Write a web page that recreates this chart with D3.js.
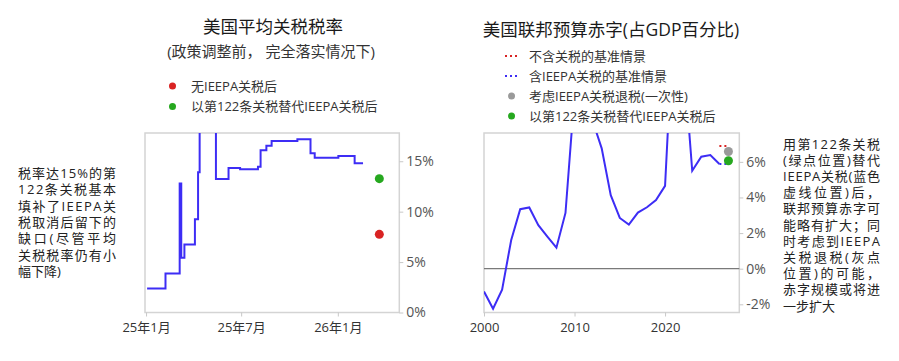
<!DOCTYPE html>
<html><head><meta charset="utf-8">
<script src="https://cdn.jsdelivr.net/npm/d3@7"></script>
<style>
body{margin:0;background:#fff;}
svg text{font-family:"Open Sans","Noto Sans CJK SC",sans-serif;}
</style></head><body>
<svg id="c" width="899" height="361"></svg>
<script>
// ---------- data: left chart (average US tariff rate, %) ----------
const tariffDates = ["2025-01-03","2025-02-07","2025-03-06","2025-03-09","2025-03-15","2025-04-04","2025-04-10","2025-04-13","2025-05-14","2025-06-07","2025-06-29","2025-08-02","2025-08-07","2025-08-18","2025-08-28","2025-10-16","2025-11-10","2025-11-18","2026-01-02","2026-02-02","2026-02-18"];
const tariffRates = [2.38,3.87,12.8,5.42,6.75,9.24,13.9,27.0,13.24,14.33,14.2,14.46,16.1,16.54,17.0,17.18,15.8,15.35,15.52,14.8,14.8];
const tariffScenarioDate = "2026-03-21";
const tariffNoIEEPA = 7.75;
const tariffSec122 = 13.27;
const tariffYTicks = [0,5,10,15];
const tariffXTicks = ["2025-01-01","2025-07-01","2026-01-01"];
const tariffXTickLabels = ["25年1月","25年7月","26年1月"];

// ---------- data: right chart (federal deficit, % of GDP) ----------
const deficitYears = [2000,2001,2002,2003,2004,2005,2006,2007,2008,2009,2010,2011,2012,2013,2014,2015,2016,2017,2018,2019,2020,2021,2022,2023,2024,2025,2026];
const deficitValues = [-1.28,-2.25,-1.18,1.6,3.34,3.44,2.44,1.8,1.18,3.13,9.8,8.6,8.3,6.76,4.13,2.85,2.48,3.15,3.45,3.85,4.65,14.7,12.1,5.5,6.29,6.38,5.88];
const baselineYears = [2026,2027];
const baselineNoTariffs = [6.89,6.89];
const baselineWithIEEPA = [5.88,5.88];
const scenarioYear = 2027;
const deficitRefund = 6.58;
const deficitSec122 = 6.06;
const deficitYTicks = [-2,0,2,4,6];
const deficitXTicks = [2000,2010,2020];

// ---------- texts ----------
const leftTitle = "美国平均关税税率";
const leftSubtitle = "(政策调整前， 完全落实情况下)";
const leftLegend = ["无IEEPA关税后","以第122条关税替代IEEPA关税后"];
const rightTitle = "美国联邦预算赤字(占GDP百分比)";
const rightLegend = ["不含关税的基准情景","含IEEPA关税的基准情景","考虑IEEPA关税退税(一次性)","以第122条关税替代IEEPA关税后"];
const leftNote = ["税率达15%的第","122条关税基本","填补了IEEPA关","税取消后留下的","缺口(尽管平均","关税税率仍有小","幅下降)"];
const rightNote = ["用第122条关税","(绿点位置)替代","IEEPA关税(蓝色","虚线位置)后，","联邦预算赤字可","能略有扩大；同","时考虑到IEEPA","关税退税(灰点","位置)的可能，","赤字规模或将进","一步扩大"];

// ---------- styles ----------
const BLUE = "#3d2df5", RED = "#d92323", GREEN = "#26a81f", GRAY = "#9a9a9a";
const FRAME = "#d4d4d4";
const svg = d3.select("#c");
const parse = d3.timeParse("%Y-%m-%d");

function frame(g, x0, y0, x1, y1){
  g.append("rect").attr("x",x0).attr("y",y0).attr("width",x1-x0).attr("height",y1-y0)
   .attr("fill","none").attr("stroke",FRAME).attr("stroke-width",1.5);
}
function styleAxis(a, color, size){
  a.select(".domain").remove();
  a.selectAll(".tick line").attr("stroke","#c8c8c8");
  a.selectAll(".tick text").attr("fill",color).style("font-size",size+"px");
}
function note(lines, x, y0, w, lh){
  const t = svg.append("g");
  lines.forEach((s,i)=>{
    const el = t.append("text").attr("x",x).attr("y",y0+i*lh).attr("dy","0.35em")
      .style("font-size","13px").attr("fill","#222").text(s);
    if(i < lines.length-1) el.attr("textLength",w).attr("lengthAdjust","spacing");
  });
}

// ================= LEFT CHART =================
const L = {x0:145, x1:399.3, y0:133, y1:312.5};
const xL = d3.scaleTime().domain([parse("2024-12-30"), parse("2026-04-28")]).range([L.x0, L.x1]);
const yL = d3.scaleLinear().domain([0,17.8]).range([L.y1, L.y0]);
const gL = svg.append("g");
const defs = svg.append("defs");
defs.append("clipPath").attr("id","clipL").append("rect")
  .attr("x",L.x0).attr("y",L.y0).attr("width",L.x1-L.x0).attr("height",L.y1-L.y0);
defs.append("clipPath").attr("id","clipR").append("rect")
  .attr("x",484).attr("y",133).attr("width",739.3-484).attr("height",312.5-133);

frame(gL, L.x0, L.y0, L.x1, L.y1);
const ayL = gL.append("g").attr("transform",`translate(${L.x1},0)`)
  .call(d3.axisRight(yL).tickValues(tariffYTicks).tickSize(4).tickPadding(3).tickFormat(d=>d+"%"));
styleAxis(ayL, "#555", 14);
const axL = gL.append("g").attr("transform",`translate(0,${L.y1})`)
  .call(d3.axisBottom(xL).tickValues(tariffXTicks.map(parse)).tickSize(4).tickPadding(6)
    .tickFormat((d,i)=>tariffXTickLabels[i]));
styleAxis(axL, "#333", 13);

const tariffData = tariffDates.map((d,i)=>({d:parse(d), v:tariffRates[i]}));
gL.append("path").datum(tariffData).attr("clip-path","url(#clipL)")
  .attr("fill","none").attr("stroke",BLUE).attr("stroke-width",2)
  .attr("d", d3.line().x(p=>xL(p.d)).y(p=>yL(p.v)).curve(d3.curveStepAfter));
gL.append("circle").attr("cx",xL(parse(tariffScenarioDate))).attr("cy",yL(tariffNoIEEPA)).attr("r",4.5).attr("fill",RED);
gL.append("circle").attr("cx",xL(parse(tariffScenarioDate))).attr("cy",yL(tariffSec122)).attr("r",4.5).attr("fill",GREEN);

svg.append("text").attr("x",273).attr("y",27).attr("dy","0.35em").attr("text-anchor","middle")
  .style("font-size","17.5px").attr("fill","#1a1a1a").text(leftTitle);
svg.append("text").attr("x",271).attr("y",51.5).attr("dy","0.35em").attr("text-anchor","middle")
  .style("font-size","15px").attr("fill","#333").text(leftSubtitle);
[RED, GREEN].forEach((c,i)=>{
  const y = 86 + i*20.5;
  svg.append("circle").attr("cx",172.5).attr("cy",y).attr("r",3.5).attr("fill",c);
  svg.append("text").attr("x",191).attr("y",y).attr("dy","0.35em").style("font-size","13px")
    .attr("fill","#333").text(leftLegend[i]);
});

// ================= RIGHT CHART =================
const R = {x0:484, x1:739.3, y0:133, y1:312.5};
const xR = d3.scaleLinear().domain([2000, 2028.2]).range([R.x0, R.x1]);
const yR = d3.scaleLinear().domain([-2.46, 7.62]).range([R.y1, R.y0]);
const gR = svg.append("g");
frame(gR, R.x0, R.y0, R.x1, R.y1);
const ayR = gR.append("g").attr("transform",`translate(${R.x1},0)`)
  .call(d3.axisRight(yR).tickValues(deficitYTicks).tickSize(4).tickPadding(3).tickFormat(d=>d+"%"));
styleAxis(ayR, "#555", 14);
const axR = gR.append("g").attr("transform",`translate(0,${R.y1})`)
  .call(d3.axisBottom(xR).tickValues(deficitXTicks).tickSize(4).tickPadding(6).tickFormat(d3.format("d")));
styleAxis(axR, "#333", 13);
gR.append("line").attr("x1",R.x0).attr("x2",R.x1).attr("y1",yR(0)).attr("y2",yR(0))
  .attr("stroke","#7a7a7a").attr("stroke-width",1.3);

const lineR = d3.line().x(p=>xR(p[0])).y(p=>yR(p[1]));
gR.append("path").datum(deficitYears.map((y,i)=>[y,deficitValues[i]])).attr("clip-path","url(#clipR)")
  .attr("fill","none").attr("stroke",BLUE).attr("stroke-width",2).attr("d",lineR);
gR.append("path").datum(baselineYears.map((y,i)=>[y,baselineNoTariffs[i]])).attr("clip-path","url(#clipR)")
  .attr("fill","none").attr("stroke",RED).attr("stroke-width",2.2).attr("stroke-dasharray","2,3").attr("d",lineR);
gR.append("path").datum(baselineYears.map((y,i)=>[y,baselineWithIEEPA[i]])).attr("clip-path","url(#clipR)")
  .attr("fill","none").attr("stroke",BLUE).attr("stroke-width",2.2).attr("stroke-dasharray","2,3").attr("d",lineR);
gR.append("circle").attr("cx",xR(scenarioYear)).attr("cy",yR(deficitRefund)).attr("r",4.5).attr("fill",GRAY);
gR.append("circle").attr("cx",xR(scenarioYear)).attr("cy",yR(deficitSec122)).attr("r",4.5).attr("fill",GREEN);

svg.append("text").attr("x",611).attr("y",30).attr("dy","0.35em").attr("text-anchor","middle")
  .style("font-size","17.5px").attr("fill","#1a1a1a").text(rightTitle);
const legR = [{t:"line",c:RED},{t:"line",c:BLUE},{t:"dot",c:GRAY},{t:"dot",c:GREEN}];
legR.forEach((o,i)=>{
  const y = 56 + i*20;
  if(o.t==="line"){
    svg.append("line").attr("x1",505).attr("x2",519).attr("y1",y).attr("y2",y)
      .attr("stroke",o.c).attr("stroke-width",2).attr("stroke-dasharray","2,3");
  } else {
    svg.append("circle").attr("cx",511.5).attr("cy",y).attr("r",3.5).attr("fill",o.c);
  }
  svg.append("text").attr("x",529).attr("y",y).attr("dy","0.35em").style("font-size","13px")
    .attr("fill","#333").text(rightLegend[i]);
});

// ================= NOTES =================
note(leftNote, 18, 173.3, 98, 16.4);
note(rightNote, 783, 144, 97, 16.2);
</script>
</body></html>
